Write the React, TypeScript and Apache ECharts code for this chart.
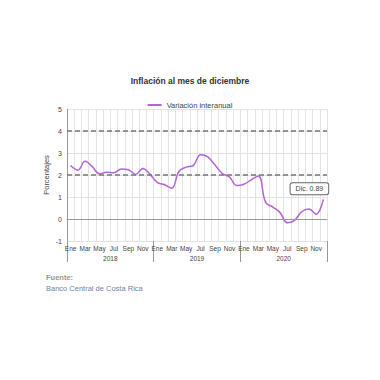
import React, { useEffect, useRef } from "react";
import * as echarts from "echarts";

const months = ["Ene", "Feb", "Mar", "Abr", "May", "Jun", "Jul", "Ago", "Sep", "Oct", "Nov", "Dic"];
const years = ["2018", "2019", "2020"];
const values2018 = [2.43, 2.22, 2.62, 2.38, 2.05, 2.13, 2.1, 2.27, 2.24, 2.02, 2.3, 2.03];
const values2019 = [1.66, 1.56, 1.4, 2.16, 2.36, 2.44, 2.92, 2.82, 2.45, 2.07, 1.91, 1.52];
const values2020 = [1.58, 1.78, 1.95, 0.76, 0.54, 0.29, -0.17, -0.06, 0.33, 0.45, 0.22, 0.89];
const targetLines = [2, 4];
const seriesName = "Variación interanual";
const FONT = "'Liberation Sans', Arial, sans-serif";

export default function App() {
  const ref = useRef<HTMLDivElement>(null);
  useEffect(() => {
    if (!ref.current) return;
    const chart = echarts.init(ref.current, undefined, { renderer: "svg" });
    const categories: string[] = [];
    years.forEach((y) => months.forEach((m) => categories.push(m + " " + y)));
    const values = [...values2018, ...values2019, ...values2020];
    const lastIdx = values.length - 1;
    const data = values.map((v, i) =>
      i === lastIdx
        ? {
            value: v,
            label: {
              show: true,
              formatter: "Dic. " + v.toFixed(2),
              position: "top",
              offset: [-14, 1],
              color: "#444",
              fontSize: 7,
              fontFamily: FONT,
              backgroundColor: "#fff",
              borderColor: "#666",
              borderWidth: 1,
              borderRadius: 2,
              padding: [2, 5],
            },
          }
        : v
    );
    chart.setOption({
      animation: false,
      title: {
        text: "Inflación al mes de diciembre",
        left: "center",
        top: 71,
        textStyle: { fontSize: 8.5, fontWeight: "bold", color: "#333", fontFamily: FONT },
      },
      legend: {
        top: 96,
        left: "center",
        itemWidth: 14,
        itemHeight: 2,
        itemGap: 4,
        icon: "rect",
        textStyle: { fontSize: 7.5, color: "#444", fontFamily: FONT },
        data: [seriesName],
      },
      grid: { left: 67, right: 53, top: 109, bottom: 139 },
      xAxis: [
        {
          type: "category",
          data: categories,
          boundaryGap: true,
          axisLine: { show: true, lineStyle: { color: "#999" } },
          axisTick: { show: false },
          axisLabel: {
            interval: 0,
            fontSize: 6.5,
            color: "#444",
            fontFamily: FONT,
            margin: 4,
            formatter: (val: string, idx: number) => (idx % 2 === 0 ? val.split(" ")[0] : ""),
          },
          splitLine: { show: true, interval: 0, lineStyle: { color: "#e3e3e3", width: 1 } },
        },
        {
          type: "category",
          data: years,
          position: "bottom",
          boundaryGap: true,
          axisLine: { show: false },
          axisTick: { show: true, length: 21, interval: 0, lineStyle: { color: "#999" } },
          axisLabel: { fontSize: 6.5, color: "#444", fontFamily: FONT, margin: 14 },
          splitLine: { show: false },
        },
      ],
      yAxis: {
        type: "value",
        min: -1,
        max: 5,
        interval: 1,
        name: "Porcentajes",
        nameLocation: "middle",
        nameGap: 17,
        nameMoveOverlap: false,
        nameTextStyle: { fontSize: 7.5, color: "#444", fontFamily: FONT },
        axisLine: { show: true, lineStyle: { color: "#999" } },
        axisTick: { show: false },
        axisLabel: { fontSize: 7, color: "#444", fontFamily: FONT, margin: 5 },
        splitLine: { show: true, lineStyle: { color: "#e3e3e3" } },
      },
      series: [
        {
          name: seriesName,
          type: "line",
          smooth: 0.4,
          data,
          showSymbol: true,
          symbolSize: 0.1,
          lineStyle: { color: "#b565d6", width: 1.5 },
          itemStyle: { color: "#b565d6" },
          markLine: {
            silent: true,
            symbol: "none",
            label: { show: false },
            data: [
              ...targetLines.map((t) => ({
                yAxis: t,
                lineStyle: { type: [5, 3], color: "#777", width: 1.5 },
              })),
              { yAxis: 0, lineStyle: { type: "solid", color: "#999", width: 1 } },
            ],
          },
        },
      ],
      graphic: [
        {
          type: "text",
          left: 46,
          top: 273,
          style: { text: "Fuente:", fontSize: 7.5, fontWeight: "bold", fill: "#a09484", fontFamily: FONT },
        },
        {
          type: "text",
          left: 46,
          top: 284,
          style: { text: "Banco Central de Costa Rica", fontSize: 7.5, fill: "#7484a4", fontFamily: FONT },
        },
      ],
    });
    return () => chart.dispose();
  }, []);
  return <div ref={ref} style={{ position: "absolute", left: 0, top: 0, width: 380, height: 380 }} />;
}
